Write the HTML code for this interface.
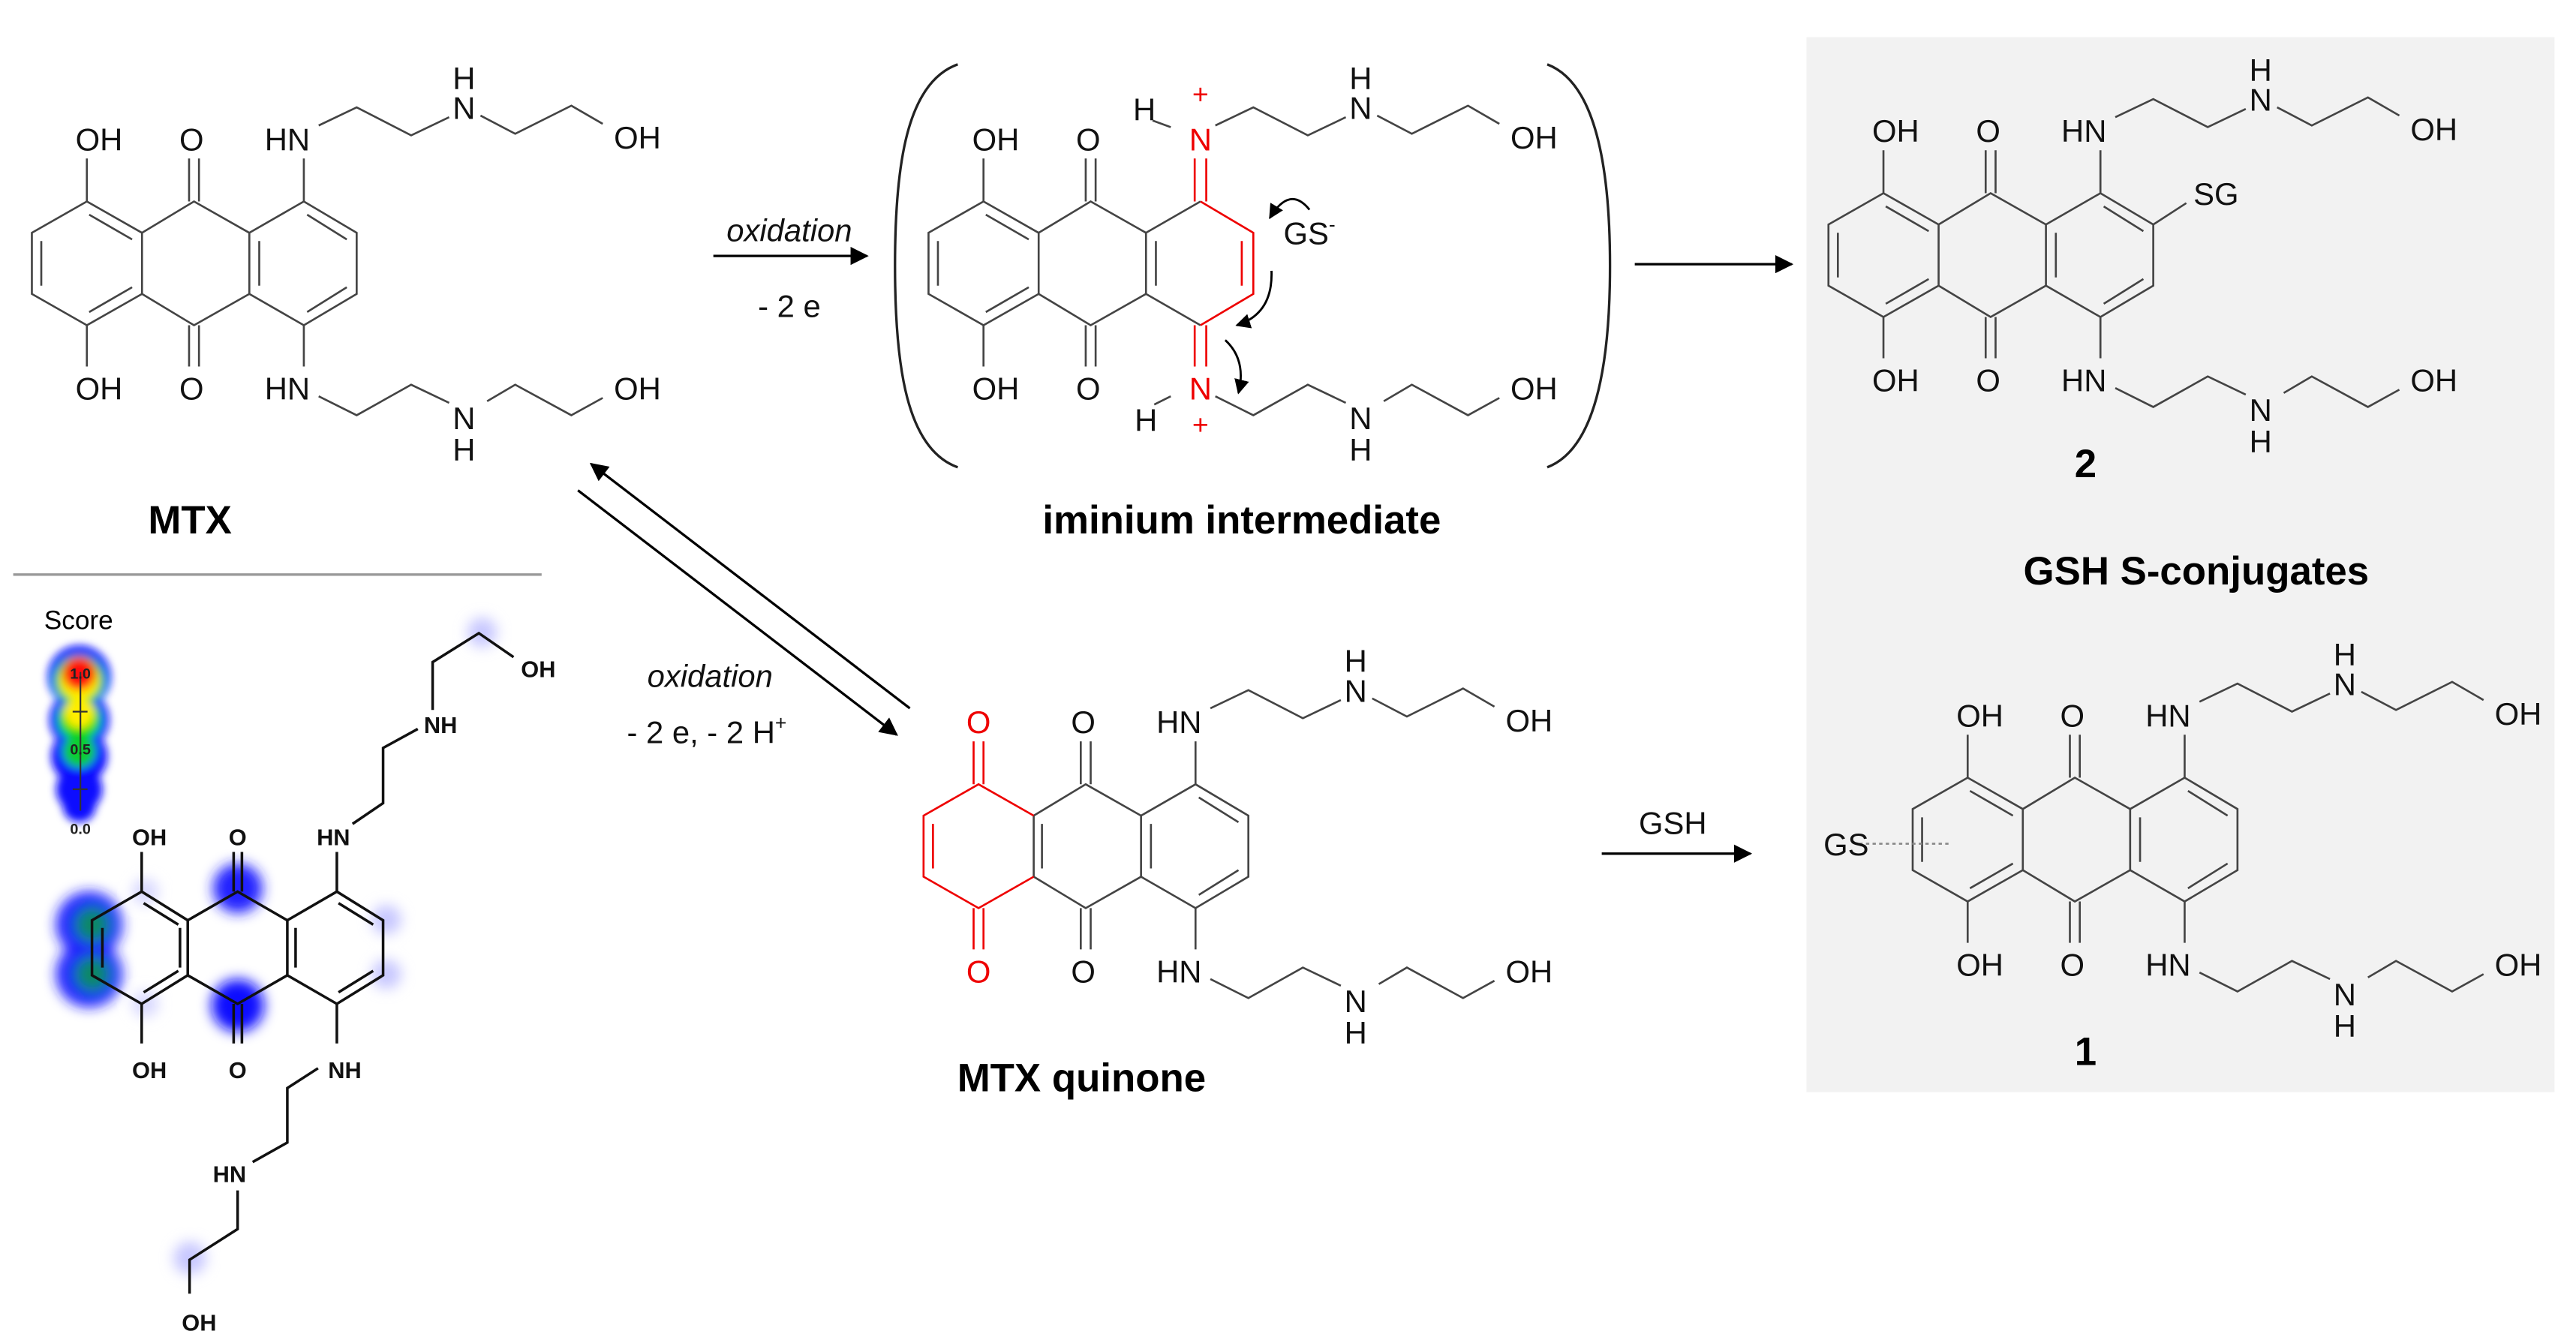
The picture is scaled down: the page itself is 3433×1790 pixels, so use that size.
<!DOCTYPE html>
<html><head><meta charset="utf-8"><style>html,body{margin:0;padding:0;background:#fff}svg{display:block}</style></head>
<body>
<svg xmlns="http://www.w3.org/2000/svg" width="3433" height="1790" viewBox="0 0 1560 813.4" font-family="Liberation Sans, sans-serif">
<defs>
<marker id="ah" viewBox="0 0 10 10" refX="9" refY="5" markerWidth="9" markerHeight="9" markerUnits="userSpaceOnUse" orient="auto"><path d="M0,0 L10,5 L0,10 Z" fill="#000"/></marker>
<marker id="ab" viewBox="0 0 10 10" refX="9" refY="5" markerWidth="14" markerHeight="11" markerUnits="userSpaceOnUse" orient="auto"><path d="M0,0 L10,5 L0,10 Z" fill="#000"/></marker>
<filter id="bl" x="-50%" y="-50%" width="200%" height="200%"><feGaussianBlur stdDeviation="4"/></filter>
<filter id="bl2" x="-50%" y="-50%" width="200%" height="200%"><feGaussianBlur stdDeviation="2.5"/></filter>
</defs>
<rect x="1094" y="22.5" width="453" height="639" fill="#f2f2f2"/>

<!-- MTX -->
<g fill="none" stroke="#444" stroke-width="1.2">
<path d="M52.6,122 L19.3,141 L19.3,178 L52.6,197 L86,178 L86,141 Z M25,146 L25,173 M54,130 L80,145 M80,174 L54,189"/>
<path d="M86,141 L117.5,122 L151,141 M86,178 L117.5,197 L151,178"/>
<path d="M151,141 L184,122 L216,141 L216,178 L184,197 L151,178 Z M157,146 L157,173 M186,130 L210,145 M210,174 L186,189"/>
<path d="M114.5,96 L114.5,122 M120.5,96 L120.5,122 M114.5,197 L114.5,222 M120.5,197 L120.5,222 M52.6,96 L52.6,122 M52.6,197 L52.6,222 M184,96 L184,122 M184,197 L184,222"/>
<path d="M193,76 L216,65 L249,82 L272,71 M291,70 L312,81 L346,64 L365,75 M193,240 L216,251.5 L249,233 L272,244 M295,243 L312,233 L346,251.5 L365,241"/>
</g>
<g font-size="19" text-anchor="middle" fill="#111">
<text x="60" y="91">OH</text><text x="116" y="91">O</text><text x="174" y="91">HN</text><text x="281" y="72">N</text><text x="281" y="54">H</text><text x="386" y="90">OH</text>
<text x="60" y="242">OH</text><text x="116" y="242">O</text><text x="174" y="242">HN</text><text x="281" y="260">N</text><text x="281" y="279">H</text><text x="386" y="242">OH</text>
</g>
<text x="115" y="323" font-size="24" font-weight="bold" text-anchor="middle">MTX</text>

<!-- Product 2 -->
<g transform="translate(1088,-5)">
<g fill="none" stroke="#444" stroke-width="1.2">
<path d="M52.6,122 L19.3,141 L19.3,178 L52.6,197 L86,178 L86,141 Z M25,146 L25,173 M54,130 L80,145 M80,174 L54,189"/>
<path d="M86,141 L117.5,122 L151,141 M86,178 L117.5,197 L151,178"/>
<path d="M151,141 L184,122 L216,141 L216,178 L184,197 L151,178 Z M157,146 L157,173 M186,130 L210,145 M210,174 L186,189"/>
<path d="M114.5,96 L114.5,122 M120.5,96 L120.5,122 M114.5,197 L114.5,222 M120.5,197 L120.5,222 M52.6,96 L52.6,122 M52.6,197 L52.6,222 M184,96 L184,122 M184,197 L184,222"/>
<path d="M193,76 L216,65 L249,82 L272,71 M291,70 L312,81 L346,64 L365,75 M193,240 L216,251.5 L249,233 L272,244 M295,243 L312,233 L346,251.5 L365,241"/>
<path d="M216,141 L236,128"/>
</g>
<g font-size="19" text-anchor="middle" fill="#111">
<text x="60" y="91">OH</text><text x="116" y="91">O</text><text x="174" y="91">HN</text><text x="281" y="72">N</text><text x="281" y="54">H</text><text x="386" y="90">OH</text>
<text x="60" y="242">OH</text><text x="116" y="242">O</text><text x="174" y="242">HN</text><text x="281" y="260">N</text><text x="281" y="279">H</text><text x="386" y="242">OH</text>
<text x="254" y="129">SG</text>
</g>
</g>
<text x="1263" y="289" font-size="24" font-weight="bold" text-anchor="middle">2</text>
<text x="1330" y="354" font-size="24" font-weight="bold" text-anchor="middle">GSH S-conjugates</text>

<!-- Product 1 -->
<g transform="translate(1139,349)">
<g fill="none" stroke="#444" stroke-width="1.2">
<path d="M52.6,122 L19.3,141 L19.3,178 L52.6,197 L86,178 L86,141 Z M25,146 L25,173 M54,130 L80,145 M80,174 L54,189"/>
<path d="M86,141 L117.5,122 L151,141 M86,178 L117.5,197 L151,178"/>
<path d="M151,141 L184,122 L216,141 L216,178 L184,197 L151,178 Z M157,146 L157,173 M186,130 L210,145 M210,174 L186,189"/>
<path d="M114.5,96 L114.5,122 M120.5,96 L120.5,122 M114.5,197 L114.5,222 M120.5,197 L120.5,222 M52.6,96 L52.6,122 M52.6,197 L52.6,222 M184,96 L184,122 M184,197 L184,222"/>
<path d="M193,76 L216,65 L249,82 L272,71 M291,70 L312,81 L346,64 L365,75 M193,240 L216,251.5 L249,233 L272,244 M295,243 L312,233 L346,251.5 L365,241"/>
<path d="M-13,162 L41,162" stroke="#888" stroke-dasharray="2,2"/>
</g>
<g font-size="19" text-anchor="middle" fill="#111">
<text x="60" y="91">OH</text><text x="116" y="91">O</text><text x="174" y="91">HN</text><text x="281" y="72">N</text><text x="281" y="54">H</text><text x="386" y="90">OH</text>
<text x="60" y="242">OH</text><text x="116" y="242">O</text><text x="174" y="242">HN</text><text x="281" y="260">N</text><text x="281" y="279">H</text><text x="386" y="242">OH</text>
<text x="-21" y="169">GS</text>
</g>
</g>
<text x="1263" y="645" font-size="24" font-weight="bold" text-anchor="middle">1</text>

<!-- Quinone -->
<g transform="translate(540,353)">
<g fill="none" stroke="#444" stroke-width="1.2">
<path d="M86,141 L86,178 M91,146 L91,173"/>
<path d="M86,141 L117.5,122 L151,141 M86,178 L117.5,197 L151,178"/>
<path d="M151,141 L184,122 L216,141 L216,178 L184,197 L151,178 Z M157,146 L157,173 M186,130 L210,145 M210,174 L186,189"/>
<path d="M114.5,96 L114.5,122 M120.5,96 L120.5,122 M114.5,197 L114.5,222 M120.5,197 L120.5,222 M184,96 L184,122 M184,197 L184,222"/>
<path d="M193,76 L216,65 L249,82 L272,71 M291,70 L312,81 L346,64 L365,75 M193,240 L216,251.5 L249,233 L272,244 M295,243 L312,233 L346,251.5 L365,241"/>
</g>
<g fill="none" stroke="#e00" stroke-width="1.2">
<path d="M86,141 L52.6,122 L19.3,141 L19.3,178 L52.6,197 L86,178 M25,146 L25,173"/>
<path d="M49.6,96 L49.6,122 M55.6,96 L55.6,122 M49.6,197 L49.6,222 M55.6,197 L55.6,222"/>
</g>
<g font-size="19" text-anchor="middle" fill="#111">
<text x="52.6" y="91" fill="#e00">O</text><text x="116" y="91">O</text><text x="174" y="91">HN</text><text x="281" y="72">N</text><text x="281" y="54">H</text><text x="386" y="90">OH</text>
<text x="52.6" y="242" fill="#e00">O</text><text x="116" y="242">O</text><text x="174" y="242">HN</text><text x="281" y="260">N</text><text x="281" y="279">H</text><text x="386" y="242">OH</text>
</g>
</g>
<text x="655" y="661" font-size="24" font-weight="bold" text-anchor="middle">MTX quinone</text>

<!-- Iminium -->
<g transform="translate(543,0)">
<g fill="none" stroke="#444" stroke-width="1.2">
<path d="M52.6,122 L19.3,141 L19.3,178 L52.6,197 L86,178 L86,141 Z M25,146 L25,173 M54,130 L80,145 M80,174 L54,189"/>
<path d="M86,141 L117.5,122 L151,141 M86,178 L117.5,197 L151,178"/>
<path d="M151,141 L184,122 M151,178 L184,197 M151,141 L151,178 M157,146 L157,173"/>
<path d="M114.5,96 L114.5,122 M120.5,96 L120.5,122 M114.5,197 L114.5,222 M120.5,197 L120.5,222 M52.6,96 L52.6,122 M52.6,197 L52.6,222"/>
<path d="M193,76 L216,65 L249,82 L272,71 M291,70 L312,81 L346,64 L365,75 M193,240 L216,251.5 L249,233 L272,244 M295,243 L312,233 L346,251.5 L365,241"/>
<path d="M155,73 L166,77 M156,245 L166,240"/>
</g>
<g fill="none" stroke="#e00" stroke-width="1.2">
<path d="M184,122 L216,141 L216,178 L184,197 M209,146 L209,173"/>
<path d="M180.5,96 L180.5,122 M187.5,96 L187.5,122 M180.5,197 L180.5,222 M187.5,197 L187.5,222"/>
</g>
<g fill="none" stroke="#000" stroke-width="1.3">
<path d="M250,127 Q238,112 226,132" marker-end="url(#ah)"/>
<path d="M227,164 Q228,190 206,197" marker-end="url(#ah)"/>
<path d="M199,206 Q212,218 207,238" marker-end="url(#ah)"/>
</g>
<g font-size="19" text-anchor="middle" fill="#111">
<text x="60" y="91">OH</text><text x="116" y="91">O</text><text x="150" y="73">H</text><text x="184" y="91" fill="#e00">N</text><text x="184" y="63" fill="#e00" font-size="17">+</text>
<text x="281" y="72">N</text><text x="281" y="54">H</text><text x="386" y="90">OH</text>
<text x="60" y="242">OH</text><text x="116" y="242">O</text><text x="151" y="261">H</text><text x="184" y="242" fill="#e00">N</text><text x="184" y="263" fill="#e00" font-size="17">+</text>
<text x="281" y="260">N</text><text x="281" y="279">H</text><text x="386" y="242">OH</text>
<text x="250" y="148">GS<tspan font-size="12" dy="-8">-</tspan></text>
</g>
</g>
<path d="M580,39 C549,50 542,100 542,161 C542,222 549,272 580,283" fill="none" stroke="#222" stroke-width="1.5"/>
<path d="M937,39 C966,50 975,100 975,161 C975,222 966,272 937,283" fill="none" stroke="#222" stroke-width="1.5"/>
<text x="752" y="323" font-size="24" font-weight="bold" text-anchor="middle">iminium intermediate</text>

<!-- Arrows -->
<g stroke="#000" stroke-width="1.5" fill="none">
<line x1="432" y1="155" x2="525" y2="155" marker-end="url(#ab)"/>
<line x1="990" y1="160" x2="1085" y2="160" marker-end="url(#ab)"/>
<line x1="551" y1="429" x2="358" y2="281" marker-end="url(#ab)"/>
<line x1="350" y1="297" x2="543" y2="445" marker-end="url(#ab)"/>
<line x1="970" y1="517" x2="1060" y2="517" marker-end="url(#ab)"/>
</g>
<g font-size="19" text-anchor="middle" fill="#111">
<text x="478" y="146" font-style="italic">oxidation</text>
<text x="478" y="192">- 2 e</text>
<text x="430" y="416" font-style="italic">oxidation</text>
<text x="428" y="450">- 2 e, - 2 H<tspan font-size="12" dy="-8">+</tspan></text>
<text x="1013" y="505">GSH</text>
</g>

<line x1="8" y1="348" x2="328" y2="348" stroke="#999" stroke-width="1.5"/>

<!-- Heatmap legend -->
<g filter="url(#bl2)">
<circle cx="48" cy="410" r="19" fill="#1010ff"/><circle cx="48" cy="436" r="18" fill="#1010ff"/><circle cx="48" cy="458" r="17" fill="#1010ff"/><circle cx="48" cy="478" r="14" fill="#1010ff"/><circle cx="48" cy="488" r="10" fill="#1010ff"/>
<circle cx="48" cy="412" r="15" fill="#10dd10"/><circle cx="48" cy="436" r="13" fill="#10dd10"/><circle cx="48" cy="455" r="10" fill="#10cc30"/>
<circle cx="48" cy="412" r="12" fill="#ffee00"/><circle cx="48" cy="432" r="9" fill="#ffee00"/>
<circle cx="48" cy="408" r="10" fill="#ff1010"/>
</g>
<!-- Heatmap molecule blobs -->
<g filter="url(#bl)">
<circle cx="54" cy="560" r="20" fill="#1a1aff"/><circle cx="54" cy="590" r="20" fill="#1a1aff"/>
<circle cx="56" cy="560" r="11" fill="#118866"/><circle cx="56" cy="590" r="11" fill="#118866"/>
<circle cx="144" cy="538" r="15" fill="#2020ff"/><circle cx="144" cy="609" r="16" fill="#1010ff"/>
<circle cx="234" cy="557" r="9" fill="#c8c8ff"/><circle cx="234" cy="590" r="9" fill="#c8c8ff"/>
<circle cx="292" cy="383" r="9" fill="#c8c8ff"/><circle cx="115" cy="762" r="10" fill="#c8c8ff"/>
<circle cx="88" cy="540" r="8" fill="#d8d8ff"/><circle cx="88" cy="608" r="8" fill="#d8d8ff"/>
</g>
<line x1="48.7" y1="407" x2="48.7" y2="491" stroke="#333" stroke-width="1"/>
<line x1="44" y1="431" x2="53" y2="431" stroke="#333" stroke-width="1"/><line x1="44" y1="478" x2="53" y2="478" stroke="#333" stroke-width="1"/>
<g font-size="9" text-anchor="middle" fill="#222" font-weight="bold">
<text x="48.7" y="411">1.0</text><text x="48.7" y="457">0.5</text><text x="48.7" y="505">0.0</text>
</g>
<text x="47.6" y="381" font-size="16" text-anchor="middle">Score</text>
<g fill="none" stroke="#111" stroke-width="1.6">
<path d="M85.8,540 L55.7,557.4 L55.7,590.7 L85.8,608 L113.7,590.7 L113.7,557.4 Z M62,562 L62,586 M87,547 L108,560 M108,588 L87,601"/>
<path d="M113.7,557.4 L143.9,540 L174,557.4 M113.7,590.7 L143.9,608 L174,590.7 M109,562 L109,586"/>
<path d="M174,557.4 L204,540 L232,557.4 L232,590.7 L204,608 L174,590.7 Z M179,562 L179,586 M205,547 L226,560 M226,588 L205,601"/>
<path d="M141.5,516 L141.5,540 M146.5,516 L146.5,540 M141.5,608 L141.5,632 M146.5,608 L146.5,632 M85.8,516 L85.8,540 M85.8,608 L85.8,632 M204,516 L204,540 M204,608 L204,632"/>
<path d="M213.5,499 L232,486.4 L232,453 L253,441.5 M262,430 L262,401 L290,383.5 L311,398"/>
<path d="M192.6,647 L174,659 L174,692 L153,703.8 M143.9,721 L143.9,744.4 L114.8,763 L114.8,783.5"/>
</g>
<g font-size="14" font-weight="bold" text-anchor="middle" fill="#111">
<text x="90.5" y="512">OH</text><text x="143.9" y="512">O</text><text x="201.9" y="512">HN</text>
<text x="90.5" y="653">OH</text><text x="143.9" y="653">O</text><text x="208.8" y="653">NH</text>
<text x="266.8" y="444">NH</text><text x="326" y="410">OH</text>
<text x="139" y="716">HN</text><text x="120.6" y="806">OH</text>
</g>
</svg>
</body></html>
